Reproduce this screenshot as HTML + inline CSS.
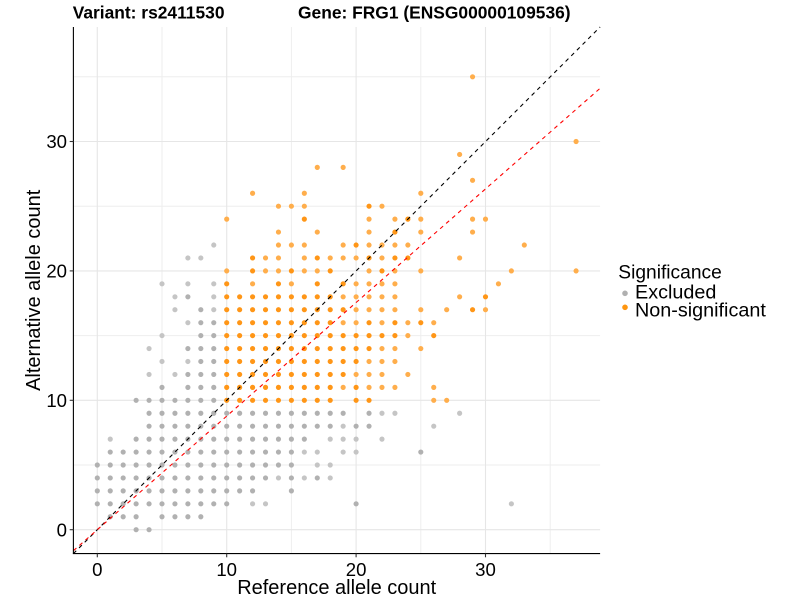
<!DOCTYPE html>
<html>
<head>
<meta charset="utf-8">
<style>
html,body{margin:0;padding:0;background:#fff;}
svg{display:block;}
text{font-family:"Liberation Sans",Arial,sans-serif;}
</style>
</head>
<body>
<svg width="800" height="600" viewBox="0 0 800 600" xmlns="http://www.w3.org/2000/svg">
<rect x="0" y="0" width="800" height="600" fill="#fff"/>
<!-- grid minor -->
<g stroke="#EEEEEE" stroke-width="1">
<line x1="162" y1="27" x2="162" y2="553.6"/>
<line x1="291.4" y1="27" x2="291.4" y2="553.6"/>
<line x1="420.8" y1="27" x2="420.8" y2="553.6"/>
<line x1="550.2" y1="27" x2="550.2" y2="553.6"/>
<line x1="73.4" y1="465" x2="600.1" y2="465"/>
<line x1="73.4" y1="335.6" x2="600.1" y2="335.6"/>
<line x1="73.4" y1="206.2" x2="600.1" y2="206.2"/>
<line x1="73.4" y1="76.8" x2="600.1" y2="76.8"/>
</g>
<!-- grid major -->
<g stroke="#E6E6E6" stroke-width="1.1">
<line x1="97.3" y1="27" x2="97.3" y2="553.6"/>
<line x1="226.7" y1="27" x2="226.7" y2="553.6"/>
<line x1="356.1" y1="27" x2="356.1" y2="553.6"/>
<line x1="485.5" y1="27" x2="485.5" y2="553.6"/>
<line x1="73.4" y1="529.7" x2="600.1" y2="529.7"/>
<line x1="73.4" y1="400.3" x2="600.1" y2="400.3"/>
<line x1="73.4" y1="270.9" x2="600.1" y2="270.9"/>
<line x1="73.4" y1="141.5" x2="600.1" y2="141.5"/>
</g>
<!-- points -->
<g transform="translate(97.3 529.7) scale(12.94 -12.94)" fill="none" stroke-linecap="round" stroke-width="0.4" stroke-dasharray="0 1">
<path stroke="#B1B1B1" d="M3 0H4.01M1 1H3.01M5 1H8.01M0 2H10.01M20 2h.01M0 3H12.01M15 3h.01M0 4H13.01M15 4h.01M17 4h.01M0 5H15.01M1 6H15.01M25 6h.01M3 7H16.01M4 8H18.01M20 8H21.01M4 9H19.01M21 9h.01M3 10H9.01M5 11h.01M7 11H9.01M7 12H9.01M8 13H9.01M7 14H9.01M8 15H9.01M8 16H9.01M8 17h.01M7 18h.01"/>
<path stroke="#C5C5C5" d="M12 2H13.01M32 2h.01M14 4h.01M16 4h.01M18 4h.01M17 5H18.01M16 6H17.01M19 6H20.01M1 7h.01M18 7H20.01M22 7h.01M19 8h.01M26 8h.01M22 9H23.01M28 9h.01M4 12h.01M6 12h.01M5 13h.01M7 13h.01M4 14h.01M5 15h.01M7 16h.01M6 17h.01M9 17h.01M6 18h.01M9 18h.01M5 19h.01M7 19h.01M9 19h.01M7 21H8.01M9 22h.01"/>
<path stroke="#FF9617" d="M10 10H18.01M20 10H21.01M10 11H18.01M20 11h.01M10 12H19.01M10 13H20.01M10 14H21.01M10 15H23.01M26 15h.01M10 16H18.01M21 16h.01M23 16h.01M25 16h.01M10 17H19.01M29 17h.01M10 18H18.01M30 18h.01M10 19h.01M14 19h.01M17 19h.01M19 19h.01M12 20h.01M15 20h.01M18 20h.01M22 20h.01M12 21h.01M17 21h.01M21 21h.01M23 21H24.01M20 22h.01M23 23h.01M16 24h.01M24 24h.01M21 25h.01"/>
<path stroke="#FFAE4C" d="M26 10H27.01M19 11h.01M21 11H23.01M26 11h.01M20 12H22.01M24 12h.01M21 13H23.01M22 14H23.01M25 14h.01M24 15h.01M19 16H20.01M22 16h.01M24 16h.01M26 16h.01M20 17H23.01M25 17h.01M27 17h.01M30 17h.01M19 18H23.01M28 18h.01M12 19h.01M15 19h.01M20 19H23.01M31 19h.01M10 20h.01M13 20H14.01M16 20H17.01M21 20h.01M23 20h.01M25 20h.01M32 20h.01M37 20h.01M13 21H14.01M16 21h.01M18 21H20.01M22 21h.01M28 21h.01M14 22H16.01M19 22h.01M21 22H24.01M33 22h.01M14 23h.01M17 23h.01M21 23h.01M25 23h.01M29 23h.01M10 24h.01M21 24h.01M23 24h.01M25 24h.01M29 24H30.01M14 25H16.01M22 25h.01M12 26h.01M16 26h.01M25 26h.01M29 27h.01M17 28h.01M19 28h.01M28 29h.01M37 30h.01M29 35h.01"/>
</g>
<!-- reference lines -->
<line x1="73.4" y1="553.6" x2="600.1" y2="27" stroke="#000" stroke-width="1.1" stroke-dasharray="4 4"/>
<line x1="73.4" y1="550.7" x2="600.1" y2="88.3" stroke="#FF0000" stroke-width="1.1" stroke-dasharray="4 4"/>
<!-- axes -->
<g stroke="#000" stroke-width="1.1">
<line x1="73.4" y1="27" x2="73.4" y2="553.6"/>
<line x1="72.85" y1="553.6" x2="600.1" y2="553.6"/>
</g>
<g stroke="#333" stroke-width="1.1">
<line x1="69.7" y1="529.7" x2="73.4" y2="529.7"/>
<line x1="69.7" y1="400.3" x2="73.4" y2="400.3"/>
<line x1="69.7" y1="270.9" x2="73.4" y2="270.9"/>
<line x1="69.7" y1="141.5" x2="73.4" y2="141.5"/>
<line x1="97.3" y1="553.6" x2="97.3" y2="557.3"/>
<line x1="226.7" y1="553.6" x2="226.7" y2="557.3"/>
<line x1="356.1" y1="553.6" x2="356.1" y2="557.3"/>
<line x1="485.5" y1="553.6" x2="485.5" y2="557.3"/>
</g>
<!-- tick labels -->
<g font-size="18.6" fill="#000" text-anchor="middle">
<text x="97.3" y="576">0</text>
<text x="226.7" y="576">10</text>
<text x="356.1" y="576">20</text>
<text x="485.5" y="576">30</text>
</g>
<g font-size="18.6" fill="#000" text-anchor="end">
<text x="67" y="536.4">0</text>
<text x="67" y="407">10</text>
<text x="67" y="277.6">20</text>
<text x="67" y="148.2">30</text>
</g>
<!-- axis titles -->
<text x="336.7" y="594" font-size="20" text-anchor="middle" fill="#000">Reference allele count</text>
<text transform="translate(40 290.3) rotate(-90)" font-size="20" text-anchor="middle" fill="#000">Alternative allele count</text>
<!-- title -->
<text x="72.7" y="18.5" font-size="17.4" font-weight="bold" fill="#000">Variant: rs2411530</text>
<text x="298" y="18.5" font-size="17.4" font-weight="bold" fill="#000">Gene: FRG1 (ENSG00000109536)</text>
<!-- legend -->
<text x="618.3" y="278.3" font-size="19.2" fill="#000">Significance</text>
<circle cx="625" cy="293.3" r="2.8" fill="#B0B0B0"/>
<text x="635" y="298.3" font-size="19.8" fill="#000">Excluded</text>
<circle cx="625" cy="307.3" r="2.8" fill="#FF960F"/>
<text x="635" y="316.7" font-size="19.8" fill="#000">Non-significant</text>
</svg>
</body>
</html>
